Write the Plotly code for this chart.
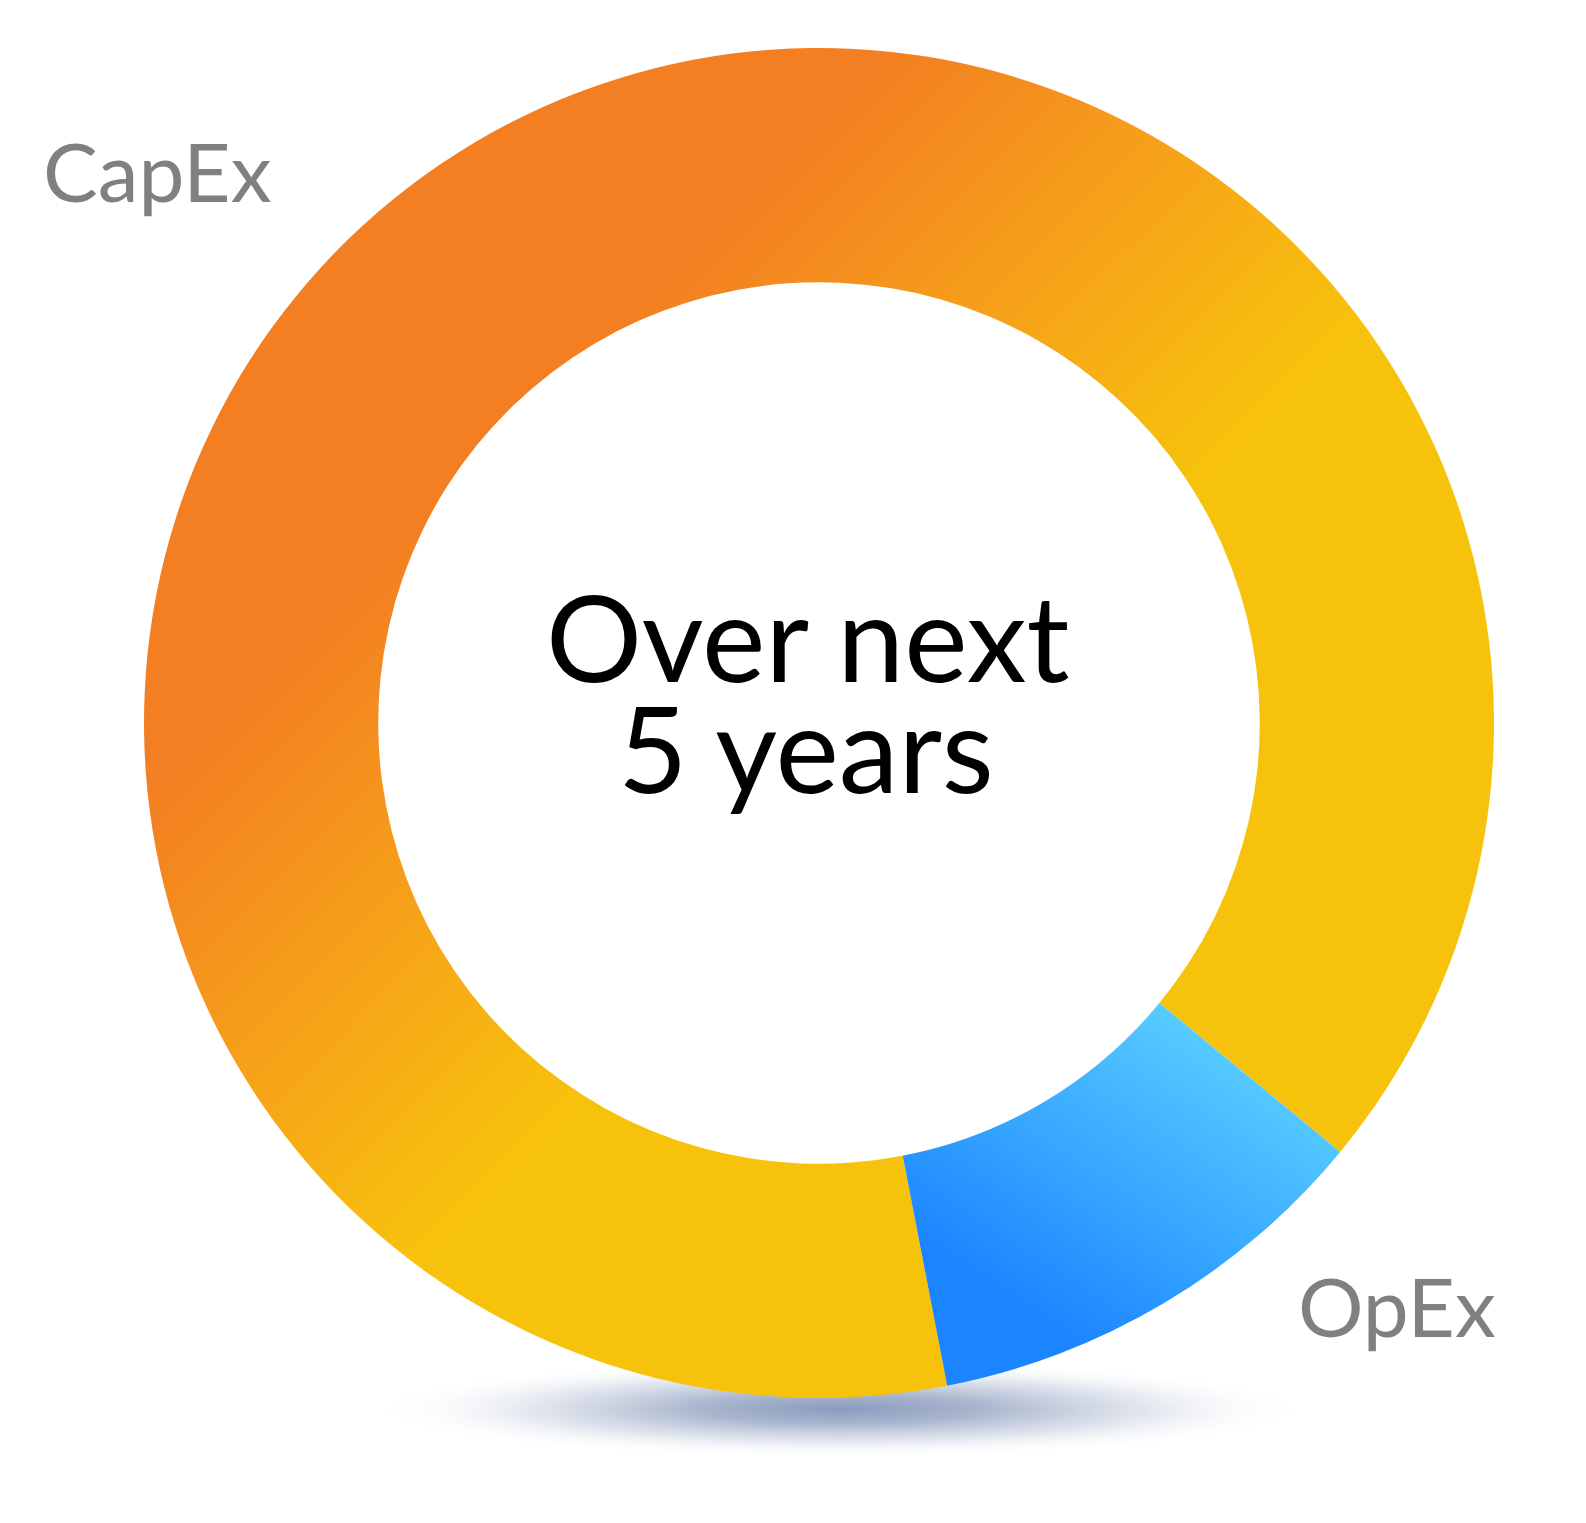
import plotly.graph_objects as go

# ---- data ----
labels = ["CapEx", "OpEx"]
values = [89, 11]
center_lines = ["Over next", "5 years"]

# ---- styles ----
FONT = "Lato, 'Noto Sans', sans-serif"
base_colors = ["#F5A01A", "#3AA8FF"]          # fallback solid colours
label_color = "#808080"

W, H = 1586, 1523
CX, CY, R = 819, 723, 675   # donut centre / outer radius in px


def px_x(x):
    return x / W


def px_y(y):
    return 1 - y / H


fig = go.Figure()
fig.add_trace(go.Pie(
    labels=labels,
    values=values,
    hole=0.653,
    sort=False,
    direction="clockwise",
    rotation=169.05,
    textinfo="none",
    hoverinfo="label+percent",
    marker=dict(colors=base_colors, line=dict(width=0)),
    showlegend=False,
    domain=dict(x=[px_x(CX - R), px_x(CX + R)], y=[px_y(CY + R), px_y(CY - R)]),
))

# centre text
fig.add_annotation(text=center_lines[0], x=px_x(808), y=px_y(636), xref="paper", yref="paper",
                   xanchor="center", yanchor="middle", showarrow=False,
                   font=dict(family=FONT, size=120, color="#000000"))
fig.add_annotation(text=center_lines[1], x=px_x(806), y=px_y(747), xref="paper", yref="paper",
                   xanchor="center", yanchor="middle", showarrow=False,
                   font=dict(family=FONT, size=120, color="#000000"))

# slice labels
fig.add_annotation(text=labels[0], x=px_x(41), y=px_y(170), xref="paper", yref="paper",
                   xanchor="left", yanchor="middle", showarrow=False,
                   font=dict(family=FONT, size=82, color=label_color))
fig.add_annotation(text=labels[1], x=px_x(1296), y=px_y(1305), xref="paper", yref="paper",
                   xanchor="left", yanchor="middle", showarrow=False,
                   font=dict(family=FONT, size=82, color=label_color))

# soft shadow under the donut
fig.add_shape(type="circle", xref="paper", yref="paper", layer="below",
              x0=px_x(372), x1=px_x(1308), y0=px_y(1458), y1=px_y(1360),
              fillcolor="#8C9DBD", opacity=0.9, line=dict(width=0))

fig.update_layout(
    width=W, height=H, autosize=False,
    margin=dict(l=0, r=0, t=0, b=0),
    paper_bgcolor="white", plot_bgcolor="white",
)

post_js = r"""
document.body.style.margin = '0';
document.body.style.padding = '0';
document.body.style.overflow = 'hidden';
var gd = document.getElementById('{plot_id}');
var NS = 'http://www.w3.org/2000/svg';
var GRADS = {
  'CapEx': {id: 'gradCapEx', x1: 0, y1: 0, x2: 1, y2: 1,
            stops: [[0, '#F37F22', 1], [0.28, '#F37F22', 1], [0.41, '#F6A01A', 1], [0.55, '#F7C20C', 1], [1, '#F7C20C', 1]]},
  'OpEx':  {id: 'gradOpEx', x1: 0.12, y1: 0.95, x2: 0.8, y2: 0.05,
            stops: [[0, '#1A85FF', 1], [0.18, '#1A85FF', 1], [1, '#5DD3FF', 1]]}
};
function mkStops(g, stops){
  stops.forEach(function(s){
    var st = document.createElementNS(NS, 'stop');
    st.setAttribute('offset', s[0]);
    st.setAttribute('stop-color', s[1]);
    st.setAttribute('stop-opacity', s[2]);
    g.appendChild(st);
  });
}
function applyGrad(){
  var svg = gd.querySelector('svg.main-svg');
  if (!svg) return;
  var defs = svg.querySelector('defs');
  if (!defs) { defs = document.createElementNS(NS, 'defs'); svg.insertBefore(defs, svg.firstChild); }
  Object.keys(GRADS).forEach(function(k){
    var G = GRADS[k];
    if (!defs.querySelector('#' + G.id)) {
      var lg = document.createElementNS(NS, 'linearGradient');
      lg.setAttribute('id', G.id);
      lg.setAttribute('x1', G.x1); lg.setAttribute('y1', G.y1);
      lg.setAttribute('x2', G.x2); lg.setAttribute('y2', G.y2);
      mkStops(lg, G.stops);
      defs.appendChild(lg);
    }
  });
  if (!defs.querySelector('#gradShadow')) {
    var rg = document.createElementNS(NS, 'radialGradient');
    rg.setAttribute('id', 'gradShadow');
    rg.setAttribute('cx', 0.5); rg.setAttribute('cy', 0.5); rg.setAttribute('r', 0.5);
    mkStops(rg, [[0, '#8A9BBC', 1], [0.3, '#93A3C1', 0.8], [0.65, '#A9B6CE', 0.35], [1, '#FFFFFF', 0]]);
    defs.appendChild(rg);
  }
  gd.querySelectorAll('g.slice path.surface').forEach(function(p){
    var d = p.__data__;
    var lab = d && d.label;
    if (GRADS[lab]) { p.style.fill = 'url(#' + GRADS[lab].id + ')'; p.style.fillOpacity = 1; }
  });
  gd.querySelectorAll('.layer-below .shapelayer path').forEach(function(p){
    p.style.fill = 'url(#gradShadow)';
    p.style.opacity = 1;
    p.style.fillOpacity = 1;
  });
}
applyGrad();
gd.on('plotly_afterplot', applyGrad);
"""

fig.write_html("out.html", post_script=post_js, config={"displayModeBar": False})
